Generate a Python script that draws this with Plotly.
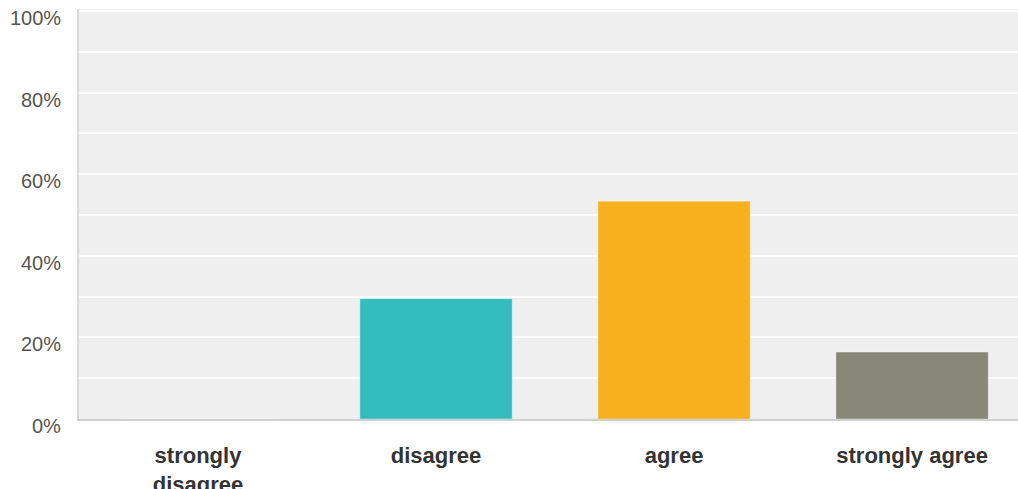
import plotly.graph_objects as go

categories = ["strongly<br>disagree", "disagree", "agree", "strongly agree"]
values = [0, 29.5, 53.4, 16.4]
colors = ["#33BDBF", "#33BDBF", "#F7B01E", "#878877"]
ytick_vals = [0, 20, 40, 60, 80, 100]
ytick_text = ["0%", "20%", "40%", "60%", "80%", "100%"]

FONT = "Liberation Sans, Arial, sans-serif"

fig = go.Figure()
fig.add_trace(go.Bar(
    x=categories, y=values,
    marker=dict(color=colors, line=dict(color="rgba(255,255,255,0.35)", width=1)),
    width=0.64,
    hoverinfo="skip",
))

for v, t in zip(ytick_vals, ytick_text):
    fig.add_annotation(
        x=0, xref="paper", y=v, yref="y", text=t, showarrow=False,
        xanchor="right", yanchor="middle", xshift=-16, yshift=-7,
        font=dict(family=FONT, size=20, color="#555555"),
    )

fig.update_layout(
    width=1018, height=489,
    margin=dict(l=79, r=0, t=9, b=70, pad=0, autoexpand=False),
    paper_bgcolor="white",
    plot_bgcolor="#EFEFEF",
    showlegend=False,
    font=dict(family=FONT),
)
fig.update_xaxes(
    type="category",
    automargin=False,
    range=[-0.5, 3.445],
    showline=True, linecolor="#CFCFCF", linewidth=2,
    showgrid=False, ticks="", ticklabelstandoff=16,
    tickfont=dict(family=FONT, size=22, color="#333333", weight="bold"),
)
fig.update_yaxes(
    automargin=False,
    range=[0, 100.5],
    dtick=10, tick0=0,
    showgrid=True, gridcolor="#FFFFFF", gridwidth=2,
    zeroline=False,
    showline=True, linecolor="#D9D9D9", linewidth=2,
    showticklabels=False, ticks="",
)

css_js = (
    "var s=document.createElement('style');"
    "s.textContent='html,body{margin:0;padding:0;overflow:hidden;height:489px;width:1018px;}';"
    "document.head.appendChild(s);"
)

fig.write_html(
    "out.html",
    config={"displayModeBar": False},
    post_script=css_js,
)
